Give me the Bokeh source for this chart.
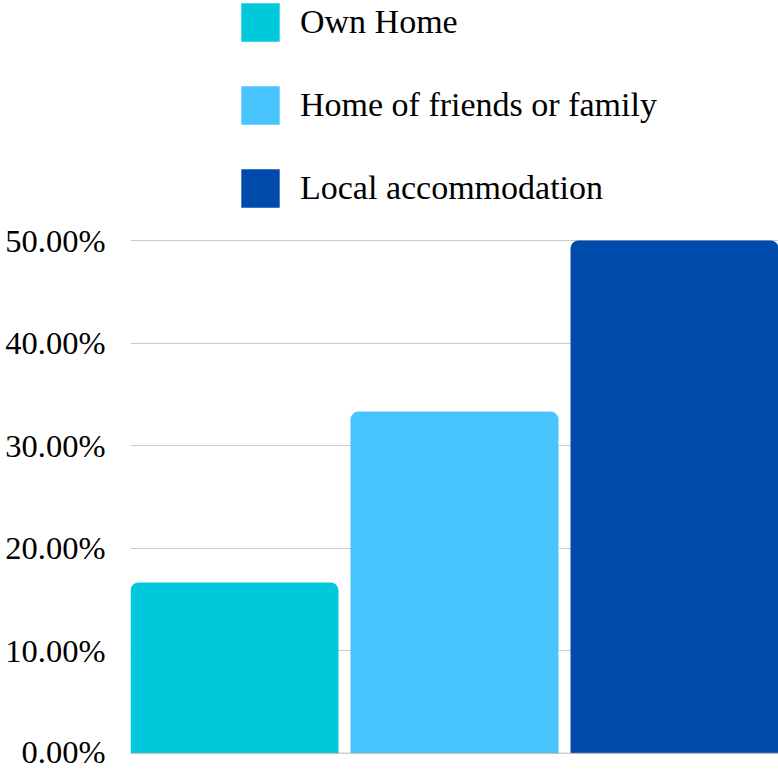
from bokeh.plotting import figure
from bokeh.models import ColumnDataSource, NumeralTickFormatter, FixedTicker, Range1d, Span
from bokeh.embed import file_html
from bokeh.resources import INLINE

categories = ["Own Home", "Home of friends or family", "Local accommodation"]
values = [0.1667, 0.3333, 0.5]
colors = ["#00c9db", "#48c4fe", "#004aac"]
y_ticks = [0.0, 0.1, 0.2, 0.3, 0.4, 0.5]

xs = list(range(len(categories)))
src = ColumnDataSource(dict(x=xs, top=values, color=colors, label=categories))

bar_w = 208 / 220
p = figure(width=778, height=769, output_backend="svg", toolbar_location=None,
           x_range=Range1d(-bar_w / 2, 2 + bar_w / 2),
           y_range=Range1d(0, 753 / 1026),
           min_border_left=130, min_border_right=0, min_border_top=0, min_border_bottom=16)

p.vbar(x="x", top="top", bottom=0, width=bar_w, source=src, fill_color="color",
       line_color=None, border_radius=(8, 8, 0, 0), legend_field="label")

p.add_layout(Span(location=0, dimension="width", line_color="#a0a0a0", line_width=1.5))

p.xaxis.visible = False
p.xgrid.visible = False
p.ygrid.grid_line_color = "#cccccc"
p.ygrid.grid_line_width = 1
p.yaxis.ticker = FixedTicker(ticks=y_ticks)
p.ygrid.ticker = FixedTicker(ticks=y_ticks)
p.yaxis.formatter = NumeralTickFormatter(format="0.00%")
p.yaxis.axis_line_color = None
p.yaxis.major_tick_line_color = None
p.yaxis.minor_tick_line_color = None
p.yaxis.major_tick_in = 0
p.yaxis.major_tick_out = 0
p.yaxis.major_label_standoff = 25
p.yaxis.major_label_text_font = "Liberation Serif"
p.yaxis.major_label_text_font_size = "32.5px"
p.yaxis.major_label_text_color = "#000000"
p.outline_line_color = None

lg = p.legend[0]
lg.location = (106, 541)
lg.orientation = "vertical"
lg.glyph_width = 48
lg.glyph_height = 48
lg.label_height = 48
lg.spacing = 35
lg.label_standoff = 16
lg.padding = 0
lg.margin = 0
lg.border_line_color = None
lg.background_fill_alpha = 0
lg.label_text_font = "Liberation Serif"
lg.label_text_font_size = "34px"
lg.label_text_color = "#000000"

open("out.html", "w").write(file_html(p, INLINE))
